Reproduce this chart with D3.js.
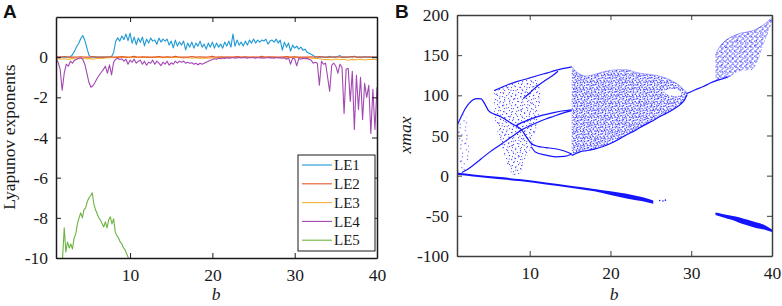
<!DOCTYPE html>
<html>
<head>
<meta charset="utf-8">
<script src="https://cdn.jsdelivr.net/npm/d3@7"></script>
<style>
  body { margin: 0; background: #fff; }
  svg text { font-family: "Liberation Serif", "Times New Roman", Times, serif !important; fill: #1a1a1a; }
  svg text.panel { font-family: "Liberation Sans", Arial, sans-serif !important; font-weight: bold; font-size: 19px; fill: #111; }
</style>
</head>
<body>
<svg id="chart" width="782" height="306"></svg>
<script>
// ---------- Panel A data: Lyapunov exponents vs b ----------
const leNames = ["LE1", "LE2", "LE3", "LE4", "LE5"];
const leColors = ["#1b98d6", "#e4572e", "#f2b233", "#a347b4", "#6cb43f"];

// LE1 and LE4 sampled every 0.25 from b = 1
const le1 = [0, 0, 0.01, 0, 0, 0.01, 0, 0.02,
  0.12, 0.3, 0.52, 0.68, 0.92, 1.08, 0.84, 0.46, 0.1,
  0, 0, 0.01, 0, 0, 0.01, 0, 0, 0.02, 0, 0.03,
  0.22, 0.78, 0.96, 0.8, 1.05, 0.88, 1.15, 0.82, 1.2, 0.7, 1.0, 0.62, 0.95, 0.74, 1.0, 0.56,
  0.9, 0.7, 0.95, 0.8, 0.86, 0.64, 0.95, 0.75, 0.9, 0.8, 0.9, 0.6, 0.8, 0.46, 0.85, 0.55,
  0.75, 0.6, 0.8, 0.36, 0.7, 0.5, 0.75, 0.45, 0.7, 0.55, 0.8, 0.5, 0.65, 0.4, 0.7, 0.5, 0.75, 0.45,
  0.7, 0.5, 0.65, 0.45, 0.75, 0.55, 0.8, 0.5, 1.15, 0.55, 0.85, 0.6, 0.75, 0.55, 0.8, 0.6, 0.85, 0.7,
  0.9, 0.7, 0.85, 0.75, 0.85, 0.8, 0.9, 0.65, 0.8, 0.85, 0.75, 0.9, 0.7, 0.85, 0.35, 0.75,
  0.5, 0.7, 0.3, 0.6, 0.45, 0.55, 0.4, 0.5, 0.35, 0.4, 0.25, 0.2, 0.15, 0.08, 0.02,
  0, 0.01, 0, 0.02, 0, 0, 0.04, 0, 0.01, 0, 0.03, 0.08, 0, 0.01, 0,
  0, 0.02, 0, 0.05, 0, 0.01, 0, 0, 0.03, 0, 0.01, 0, 0.02, 0, 0];

const le4 = [-0.05, -0.25, -0.6, -1.65, -0.8, -0.35, -0.45, -0.2,
  -0.3, -0.15, -0.1, -0.05, -0.03, -0.1, -0.35, -0.8, -1.25,
  -1.5, -1.42, -1.25, -1.05, -0.9, -0.75, -0.62, -0.45, -0.8, -0.38, -0.88,
  -0.25, -0.1, -0.05, -0.12, -0.08, -0.2, -0.1, -0.35, -0.15, -0.25, -0.1, -0.3, -0.2, -0.15, -0.35, -0.2,
  -0.4, -0.25, -0.3, -0.15, -0.35, -0.2, -0.3, -0.42, -0.25, -0.35, -0.2, -0.4, -0.28, -0.35, -0.2, -0.3,
  -0.2, -0.25, -0.2, -0.3, -0.25, -0.3, -0.28, -0.35, -0.3, -0.38, -0.3, -0.35, -0.3, -0.25, -0.2, -0.15, -0.12, -0.08,
  -0.1, -0.05, -0.08, -0.04, -0.06, -0.03, -0.05, -0.04, -0.02, -0.05, -0.03, -0.02, -0.04, -0.02, -0.03, -0.05, -0.02, -0.03,
  -0.03, -0.05, -0.02, -0.04, -0.03, -0.05, -0.03, -0.02, -0.04, -0.03, -0.05, -0.02, -0.04, -0.03, -0.05, -0.03,
  -0.1, -0.03, -0.35, -0.05, -0.08, -0.43, -0.06, -0.1, -0.05, -0.08, -0.06, -0.1, -0.15, -0.3, -0.25,
  -0.3, -1.4, -0.2, -0.35, -0.3, -1.0, -1.7, -0.4, -0.3, -0.45, -0.8, -0.35, -0.5, -2.8, -0.6,
  -0.55, -2.2, -0.7, -3.6, -0.9, -2.6, -1.0, -3.1, -1.3, -2.0, -1.4, -3.8, -1.6, -3.6, -1.5];

// LE2 and LE3 sampled every 0.5 from b = 1
const le2 = [0.02, 0, 0.03, 0, 0.01, 0, 0.02, 0, 0, 0.03,
  0, 0.01, 0, 0.02, 0, 0, 0.03, 0, 0.01, 0.04,
  0, 0.02, 0, 0.01, 0, 0.03, 0, 0.02, 0, 0.05,
  0, 0.01, 0, 0.03, 0, 0.02, 0, 0.01, 0.04, 0,
  0.02, 0, 0.01, 0, 0.03, 0, 0.02, 0, 0.01, 0,
  0.04, 0, 0.02, 0, 0.01, 0, 0.03, 0, 0.02, 0,
  0.01, 0, 0.02, 0, 0.03, 0, 0.01, 0, 0.02, 0,
  0.01, 0, 0.03, 0, 0.01, 0, 0.02, 0, 0.01];

const le3 = [-0.05, -0.1, -0.08, -0.12, -0.06, -0.1,
  -0.04, -0.08, -0.06, -0.1, -0.05, -0.08, -0.04, -0.03,
  -0.02, 0, -0.01, 0, -0.03, 0, -0.02, -0.01, 0, -0.02,
  0, -0.01, -0.03, 0, -0.02, 0, -0.01, -0.04, -0.02, -0.05,
  -0.03, -0.06, -0.04, -0.05, -0.03, -0.04, -0.02, -0.01, 0, -0.02,
  0, -0.01, 0, -0.02, 0, -0.01, -0.02, 0, -0.01, 0,
  -0.02, 0, -0.03, -0.01, 0, -0.02, -0.04, -0.03, -0.05, -0.06,
  -0.08, -0.12, -0.1, -0.14, -0.09, -0.12, -0.1, -0.15, -0.11, -0.13, -0.1, -0.14, -0.12, -0.1, -0.13];

// LE5 sampled every 0.2 from b = 1.8
const le5 = [-10, -8.5, -9.7, -9.2, -9.5, -9.3, -9.55, -9.0, -8.8, -8.3,
  -8.0, -7.75, -8.0, -7.6, -7.5, -7.2, -7.0, -6.9, -6.75, -7.3,
  -7.6, -7.8, -8.0, -8.1, -8.3, -8.45, -8.2, -8.5, -8.1, -7.95,
  -8.3, -8.05, -8.7, -8.9, -9.0, -9.2, -9.3, -9.5, -9.6, -9.8, -10.0];

const leSeries = [
  {name: "LE1", values: le1, start: 1, step: 0.25},
  {name: "LE3", values: le3, start: 1, step: 0.5},
  {name: "LE2", values: le2, start: 1, step: 0.5},
  {name: "LE4", values: le4, start: 1, step: 0.25},
  {name: "LE5", values: le5, start: 1.8, step: 0.2}
];

const xTicksA = [10, 20, 30, 40];
const yTicksA = [-10, -8, -6, -4, -2, 0];

// ---------- Panel B data: bifurcation diagram (b, xmax) ----------
// clouds of points: [b, lowest xmax, highest xmax]
const cloudLeft = [[1.0, 0, 62], [1.4, 2, 70], [1.8, 5, 76], [2.2, 10, 72], [2.5, 22, 60]];
const cloudMid = [[5.6, 75, 106], [6.0, 55, 109], [6.6, 35, 111], [7.2, 15, 113], [7.8, 2, 115],
  [8.6, 0, 117], [9.3, 15, 119], [9.9, 30, 121], [10.5, 45, 122], [11.0, 70, 118], [11.3, 90, 110]];
const cloudMain = [[15.2, 25, 136], [15.6, 27, 131], [16.3, 30, 126], [17, 31, 124], [18, 33, 126],
  [19, 36, 129], [20, 40, 131], [21, 45, 132], [22, 51, 132], [23, 56, 129], [24, 62, 127],
  [25, 67, 126], [26, 73, 124], [27, 78, 121], [28, 84, 116], [28.7, 89, 111], [29.2, 95, 106], [29.5, 101, 103]];
const cloudEye = [[26.6, 104, 104.5], [27.3, 100, 108], [28.1, 99, 108], [28.8, 101, 103]];
const cloudRight = [[33.0, 117, 150], [33.5, 119, 160], [34.0, 120, 166], [34.5, 121, 170], [35.0, 124, 173],
  [35.5, 128, 175], [36.0, 130, 177], [36.5, 131, 178], [37.0, 131, 179], [37.5, 132, 180],
  [38.0, 138, 182], [38.5, 150, 185], [39.0, 165, 188], [39.5, 178, 192], [40.0, 190, 197]];

// thick branches: [b, low, high]
const bandLow = [[1, 1, 4], [3, -1, 1.5], [6, -4, -1.5], [9, -7, -4.5], [12, -11, -8.5], [15, -15, -12.5],
  [18, -19.5, -16.5], [20, -24, -19.5], [22, -28.5, -22.5], [24, -32, -27], [25.3, -35, -31]];
const bandRight = [[33, -49, -46], [34, -52, -48], [35, -55, -50], [36, -59, -52], [37, -62, -55],
  [38, -65, -58], [39, -67, -61], [40, -70, -67]];

// thin branches: [b, xmax]
const branchRise = [[1.6, 4], [2, 6], [3, 13], [4, 21], [5, 29], [6, 36], [7, 43], [8, 50], [9, 57],
  [10, 62], [11, 66.5], [12, 70.5], [13, 74], [14, 77.5], [15.2, 81]];
const branchArch = [[1.0, 62], [1.5, 73], [2.0, 83], [2.5, 90], [3.0, 94.5], [3.5, 96], [4.0, 95.5],
  [4.4, 90], [4.9, 81], [5.5, 77], [6.3, 74], [7.0, 70], [7.6, 66], [8.3, 62], [9.0, 57], [9.6, 48],
  [10.2, 40], [11.0, 36.5], [12, 35], [13.2, 33.5], [14.2, 31], [15.2, 27]];
const branchLensUp = [[8.3, 62], [9.0, 66], [10, 70], [11.5, 75], [13, 78.5], [14, 80.5], [15.2, 82]];
const branchLensLow = [[10.2, 36], [10.7, 29.5], [12, 25.5], [13.2, 23.5], [14.3, 24], [15.2, 27]];
const branchTop = [[5.6, 106], [7, 112], [8.4, 117], [9.8, 121], [11.1, 125], [12.2, 128], [13.2, 131],
  [14.2, 133.5], [15.2, 135.5]];
const branchFork = [[9.2, 96], [10, 103], [11, 112], [12, 119], [12.9, 125], [13.5, 130]];
const branchMid = [[29.4, 102], [30.5, 107], [31.5, 111], [32.3, 115], [33.0, 118], [34.0, 121], [34.5, 123]];
const strayPts = [[26.1, -31], [26.5, -31.5], [26.8, -30.5]];

const xTicksB = [10, 20, 30, 40];
const yTicksB = [-100, -50, 0, 50, 100, 150, 200];

// ---------- layout ----------
const svg = d3.select("#chart");
const defs = svg.append("defs");
const blue = "#1414ff";

const xA = d3.scaleLinear().domain([1, 40]).range([56, 377]);
const yA = d3.scaleLinear().domain([-10, 2]).range([258, 17]);
const xB = d3.scaleLinear().domain([1, 40]).range([457, 772]);
const yB = d3.scaleLinear().domain([-100, 200]).range([256, 15]);

// dot patterns used to fake the scattered points of the clouds
// (two tiles at different angles overlap so the texture does not look like a grid)
function dotPattern(id, size, dots, s, op, rot) {
  const p = defs.append("pattern").attr("id", id)
    .attr("patternUnits", "userSpaceOnUse").attr("width", size).attr("height", size)
    .attr("patternTransform", `rotate(${rot || 0})`);
  p.selectAll("rect").data(dots).enter().append("rect")
    .attr("x", d => d[0]).attr("y", d => d[1])
    .attr("width", d => d[2] || s).attr("height", d => d[3] || s)
    .attr("fill", blue).attr("fill-opacity", op);
}
dotPattern("dense7", 7, [[0, 0], [3, 1], [5.5, 0.5], [1.5, 2.5], [4.5, 3], [6, 4.5], [0.5, 5], [3, 5.5], [2, 4]], 1.2, 0.75, 0);
dotPattern("dense13", 13, [[0, 1], [3, 0], [6, 2], [9, 0], [11, 3], [1, 4], [4, 3.5], [7, 5], [10, 6.5],
  [12, 8], [2, 7], [5, 6.5], [8, 8.5], [0, 10], [3, 10], [6, 11], [9, 10.5], [11, 12], [4, 12], [7, 1.5]], 1.2, 0.7, 23);
dotPattern("sparse9", 9, [[0, 0], [5, 2], [2, 5], [7, 6], [4, 8], [8, 3]], 1.1, 0.7, 0);
dotPattern("sparse13", 13, [[1, 2], [6, 0], [10, 4], [3, 8], [8, 10], [12, 11], [5, 5], [0, 11], [11, 7]], 1.1, 0.7, -31);
dotPattern("streak", 5, [[0.5, 0, 0.9, 3], [2.5, 2, 0.9, 2.5], [4, 0.5, 0.8, 1.5], [1.5, 4, 0.9, 1]], 1, 0.7, 0);

function clip(id, xs, ys) {
  defs.append("clipPath").attr("id", id).append("rect")
    .attr("x", xs.range()[0]).attr("y", ys.range()[1])
    .attr("width", xs.range()[1] - xs.range()[0]).attr("height", ys.range()[0] - ys.range()[1]);
}
clip("clipA", xA, yA);
clip("clipB", xB, yB);

// axes with inward ticks and a box round the plot
function drawBox(g, xs, ys, xt, yt, col) {
  const styleAxis = sel => {
    sel.attr("font-family", null).attr("font-size", null);
    sel.selectAll("path").attr("stroke", col).attr("stroke-width", 1.5);
    sel.selectAll("line").attr("stroke", col).attr("stroke-width", 1);
    sel.selectAll("text").attr("fill", "#1a1a1a").style("font-size", "17.5px");
  };
  const fmt = d => String(d);
  g.append("g").attr("transform", `translate(0,${ys.range()[0]})`)
    .call(d3.axisBottom(xs).tickValues(xt).tickSize(-5).tickSizeOuter(0).tickPadding(11).tickFormat(fmt))
    .call(styleAxis);
  g.append("g").attr("transform", `translate(0,${ys.range()[1]})`)
    .call(d3.axisTop(xs).tickValues(xt).tickSize(-5).tickSizeOuter(0).tickFormat(""))
    .call(styleAxis);
  g.append("g").attr("transform", `translate(${xs.range()[0]},0)`)
    .call(d3.axisLeft(ys).tickValues(yt).tickSize(-5).tickSizeOuter(0).tickPadding(8).tickFormat(fmt))
    .call(styleAxis);
  g.append("g").attr("transform", `translate(${xs.range()[1]},0)`)
    .call(d3.axisRight(ys).tickValues(yt).tickSize(-5).tickSizeOuter(0).tickFormat(""))
    .call(styleAxis);
  g.selectAll(".domain").attr("fill", "none");
}

//////////////
/// PANEL A ///
//////////////
const gA = svg.append("g");
const plotA = gA.append("g").attr("clip-path", "url(#clipA)");

const lineA = d3.line().x(d => xA(d[0])).y(d => yA(d[1]));
leSeries.forEach(s => {
  const pts = s.values.map((v, i) => [s.start + i * s.step, v]);
  plotA.append("path").datum(pts)
    .attr("d", lineA)
    .attr("fill", "none")
    .attr("stroke", leColors[leNames.indexOf(s.name)])
    .attr("stroke-width", 1.1)
    .attr("stroke-linejoin", "round");
});

drawBox(gA, xA, yA, xTicksA, yTicksA, "#1a1a1a");

// legend
const leg = gA.append("g");
leg.append("rect").attr("x", 298).attr("y", 155).attr("width", 77).attr("height", 96)
  .attr("fill", "#fff").attr("stroke", "#1a1a1a").attr("stroke-width", 1);
leNames.forEach((n, i) => {
  const yy = 165 + i * 18.8;
  leg.append("line").attr("x1", 302).attr("x2", 332).attr("y1", yy).attr("y2", yy)
    .attr("stroke", leColors[i]).attr("stroke-width", 1.1);
  leg.append("text").attr("x", 334).attr("y", yy).attr("dy", "0.35em")
    .style("font-size", "15px").text(n);
});

gA.append("text").attr("transform", "translate(15,137) rotate(-90)")
  .attr("text-anchor", "middle").style("font-size", "17.5px")
  .text("Lyapunov exponents");
gA.append("text").attr("x", 216).attr("y", 300).attr("text-anchor", "middle")
  .style("font-size", "17.5px").style("font-style", "italic").text("b");
gA.append("text").attr("class", "panel").attr("x", 3).attr("y", 18).text("A");

//////////////
/// PANEL B ///
//////////////
const gB = svg.append("g");
const plotB = gB.append("g").attr("clip-path", "url(#clipB)");

const areaB = d3.area().x(d => xB(d[0])).y0(d => yB(d[1])).y1(d => yB(d[2])).curve(d3.curveMonotoneX);
const lineB = d3.line().x(d => xB(d[0])).y(d => yB(d[1])).curve(d3.curveMonotoneX);

function cloud(data, fills) {
  fills.forEach(f => plotB.append("path").datum(data).attr("d", areaB).attr("fill", `url(#${f})`));
}
cloud(cloudLeft, ["sparse13"]);
cloud(cloudMid, ["sparse9", "sparse13"]);
cloud(cloudMain, ["dense7", "dense13"]);
cloud(cloudRight, ["streak", "sparse13"]);
plotB.append("path").datum(cloudEye).attr("d", areaB).attr("fill", "#fff");

// edges of the main cloud are denser
plotB.append("path").datum(cloudMain.map(d => [d[0], d[1]])).attr("d", lineB)
  .attr("fill", "none").attr("stroke", blue).attr("stroke-width", 1.2);
plotB.append("path").datum(cloudMain.map(d => [d[0], d[2]])).attr("d", lineB)
  .attr("fill", "none").attr("stroke", blue).attr("stroke-width", 0.6).attr("stroke-opacity", 0.5);
plotB.append("path").datum(cloudRight.map(d => [d[0], d[2]])).attr("d", lineB)
  .attr("fill", "none").attr("stroke", blue).attr("stroke-width", 0.7).attr("stroke-opacity", 0.6);

[bandLow, bandRight].forEach(b => plotB.append("path").datum(b).attr("d", areaB).attr("fill", blue));

[branchRise, branchArch, branchLensUp, branchLensLow, branchTop, branchFork, branchMid].forEach(b =>
  plotB.append("path").datum(b).attr("d", lineB)
    .attr("fill", "none").attr("stroke", blue).attr("stroke-width", 1.2));

plotB.selectAll("circle.stray").data(strayPts).enter().append("circle")
  .attr("cx", d => xB(d[0])).attr("cy", d => yB(d[1])).attr("r", 0.8).attr("fill", blue);

drawBox(gB, xB, yB, xTicksB, yTicksB, "#3d3d3d");

gB.append("text").attr("transform", "translate(411,135) rotate(-90)")
  .attr("text-anchor", "middle").style("font-size", "17.5px").style("font-style", "italic")
  .text("xmax");
gB.append("text").attr("x", 614).attr("y", 300).attr("text-anchor", "middle")
  .style("font-size", "17.5px").style("font-style", "italic").text("b");
gB.append("text").attr("class", "panel").attr("x", 395).attr("y", 18).text("B");
</script>
</body>
</html>
